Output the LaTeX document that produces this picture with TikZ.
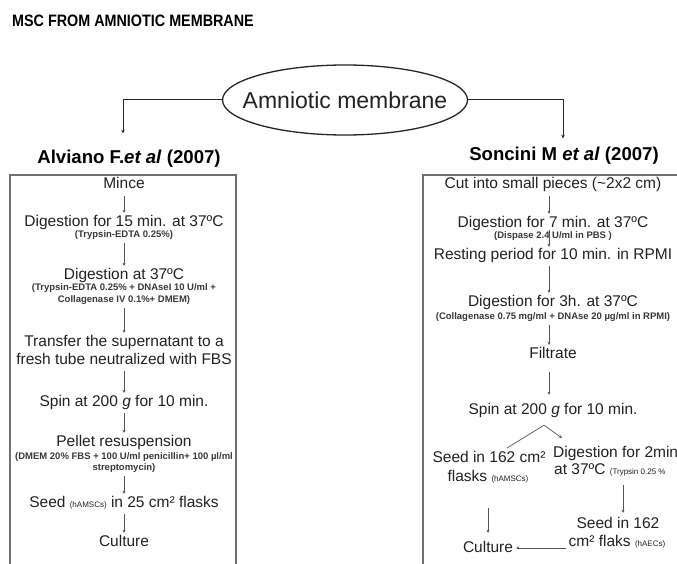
\documentclass[tikz,border=0pt]{standalone}
\usepackage{fontspec}
\setmainfont{Liberation Sans}
\usetikzlibrary{arrows.meta,shapes.geometric,calc}
\definecolor{txt}{HTML}{222222}
\definecolor{boxc}{HTML}{707070}
\definecolor{lnc}{HTML}{555555}
\newcommand\tagsz{\fontsize{8}{9}\selectfont}
\begin{document}
\begin{tikzpicture}[x=1pt,y=-1pt,
  main/.style={font=\fontsize{15.5}{17}\selectfont, text height=11pt, text depth=3pt, inner sep=0pt, text=txt},
  smalltext/.style={font=\fontsize{9.5}{10}\selectfont\bfseries, text height=6.5pt, text depth=2pt, inner sep=0pt, text=txt!90},
  auth/.style={font=\fontsize{18.6}{20}\selectfont\bfseries, text height=13pt, text depth=4pt, inner sep=0pt, text=black},
  arr/.style={draw=lnc, line width=0.7pt, -{Stealth[length=3pt,width=3pt]}, shorten <=4pt, shorten >=2pt},
  plainln/.style={draw=lnc, line width=0.7pt},
  mainconn/.style={draw=black!85, line width=1pt, -{Stealth[length=3.5pt,width=3.5pt]}},
  boxline/.style={draw=boxc, line width=1.2pt},
]
\clip (0,0) rectangle (677,564);
\fill[white] (0,0) rectangle (677,564);

\node[anchor=west, font=\fontsize{16.5}{18}\selectfont\bfseries, inner sep=0pt, xscale=0.87] (title) at (12,21) {MSC FROM AMNIOTIC MEMBRANE};

\node[ellipse, draw=black!85, line width=1.3pt, minimum width=245pt, minimum height=70pt, inner xsep=-17pt, inner ysep=0pt,
      font=\fontsize{23}{25}\selectfont, text=txt] (amn) at (345,100) {Amniotic membrane};

\node[auth] (alv) at (129,159) {Alviano F.\textit{et al} (2007)};
\node[auth] (son) at (564,156) {Soncini M \textit{et al} (2007)};

\draw[mainconn, shorten >=17pt] (amn.west) -| ($(alv.north)+(-6,0)$);
\draw[mainconn, shorten >=9pt] (amn.east) -| ($(son.north)+(-1,0)$);

% boxes
\draw[boxline] (10,575) -- (10,175) -- (236,175) -- (236,575);
\draw[boxline] (423,575) -- (423,175) -- (690,175);

% left column
\node[main] (l1) at (124,185) {Mince};
\node[main] (l2) at (124,222) {Digestion for 15 min. at 37ºC};
\node[smalltext] (l2s) at (124,235) {(Trypsin-EDTA 0.25\%)};
\node[main] (l3) at (124,275) {Digestion at 37ºC};
\node[smalltext] (l3s) at (124,288) {(Trypsin-EDTA 0.25\% + DNAseI 10 U/ml +};
\node[smalltext] (l3t) at (124,300) {Collagenase IV 0.1\%+ DMEM)};
\node[main] (l4) at (124,342) {Transfer the supernatant to a};
\node[main] (l4b) at (124,360) {fresh tube neutralized with FBS};
\node[main] (l5) at (124,402) {Spin at 200 \textit{g} for 10 min.};
\node[main] (l6) at (124,442) {Pellet resuspension};
\node[smalltext] (l6s) at (124,457) {(DMEM 20\% FBS + 100 U/ml penicillin+ 100 µl/ml};
\node[smalltext] (l6t) at (124,468) {streptomycin)};
\node[main] (l7) at (124,503) {Seed {\tagsz (hAMSCs)} in 25 cm² flasks};
\node[main] (l8) at (124,542) {Culture};

\draw[arr] (l1) -- (l2);
\draw[arr] (l2s) -- (l3);
\draw[arr] (l3t) -- (l4);
\draw[arr] (l4b) -- (l5);
\draw[arr] (l5) -- (l6);
\draw[arr] (l6t) -- (l7);
\draw[arr] (l7) -- (l8);

% right column
\coordinate (ax) at (549,0);
\node[main] (r1) at (553,185) {Cut into small pieces (\textasciitilde2x2 cm)};
\node[main] (r2) at (553,223) {Digestion for 7 min. at 37ºC};
\node[smalltext] (r2s) at (553,236) {(Dispase 2.4 U/ml in PBS )};
\node[main] (r3) at (553,255) {Resting period for 10 min. in RPMI};
\node[main] (r4) at (553,302) {Digestion for 3h. at 37ºC};
\node[smalltext] (r4s) at (553,317) {(Collagenase 0.75 mg/ml + DNAse 20 µg/ml in RPMI)};
\node[main] (r5) at (553,354) {Filtrate};
\node[main] (r6) at (553,410) {Spin at 200 \textit{g} for 10 min.};

\draw[arr] (r1.south -| ax) -- (r2.north -| ax);
\draw[arr, shorten <=0pt, shorten >=1pt] (r2.south -| ax) -- (r3.north -| ax);
\draw[arr] (r3.south -| ax) -- (r4.north -| ax);
\draw[arr] (r4s.south -| ax) -- (r5.north -| ax);
\draw[arr, shorten <=11pt, shorten >=8pt] (r5.south -| ax) -- (r6.north -| ax);

\node[main] (r7a) at (489,458) {Seed in 162 cm²};
\node[main] (r7b) at (488,477) {flasks {\tagsz (hAMSCs)}};
\node[main, anchor=west] (r8a) at (553,453) {Digestion for 2min};
\node[main, anchor=west] (r8b) at (554,470) {at 37ºC {\tagsz (Trypsin 0.25 \%}};
\node[main] (r9a) at (618,524) {Seed in 162};
\node[main] (r9b) at (617,542) {cm² flaks {\tagsz (hAECs)}};
\node[main] (r10) at (488,548) {Culture};

\coordinate (apex) at ($(r6.south)+(-9,8)$);
\coordinate (bl) at (507,448);
\coordinate (br) at (562,438);
\draw[plainln] (apex) -- (bl);
\draw[arr, shorten <=0pt, shorten >=0pt] (apex) -- (br);

\coordinate (bx) at (623,0);
\draw[arr, shorten <=8pt, shorten >=4pt] (r8b.south -| bx) -- (r9a.north -| bx);
\draw[arr, shorten <=24pt, shorten >=8pt] (r7b.south) -- (r10.north);
\draw[arr, shorten <=3pt, shorten >=3pt] (r9b.west |- r10.east) -- (r10.east);
\end{tikzpicture}
\end{document}
